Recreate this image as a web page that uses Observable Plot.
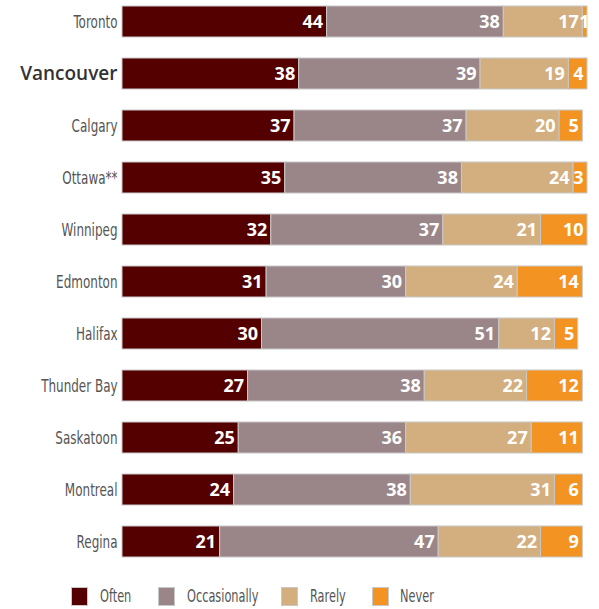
<!DOCTYPE html>
<html>
<head>
<meta charset="utf-8">
<script src="https://cdn.jsdelivr.net/npm/d3@7"></script>
<script src="https://cdn.jsdelivr.net/npm/@observablehq/plot@0.6"></script>
<style>
  body { margin: 0; background: #fff; }
  #chart { width: 599px; position: relative; }
  #legend { position: relative; height: 34px; width: 599px; font-family: "DejaVu Sans Condensed", "DejaVu Sans", sans-serif; font-size: 18px; color: #555; }
  .sw { position: absolute; top: 12px; width: 17px; height: 19px; box-sizing: border-box; border: 1px solid #c8c8c8; }
  .lb { position: absolute; top: 11px; line-height: 20px; transform: scaleX(0.7); transform-origin: left center; white-space: nowrap; }
</style>
</head>
<body>
<div id="chart"></div>
<script>
const cities = ["Toronto","Vancouver","Calgary","Ottawa**","Winnipeg","Edmonton","Halifax","Thunder Bay","Saskatoon","Montreal","Regina"];
const often = [44,38,37,35,32,31,30,27,25,24,21];
const occasionally = [38,39,37,38,37,30,51,38,36,38,47];
const rarely = [17,19,20,24,21,24,12,22,27,31,22];
const never = [1,4,5,3,10,14,5,12,11,6,9];
const seriesNames = ["Often","Occasionally","Rarely","Never"];
const seriesColors = ["#540000","#9a8688","#d3ae7e","#f39321"];

const seriesValues = [often, occasionally, rarely, never];
const data = [];
cities.forEach((c, i) => {
  seriesNames.forEach((s, j) => data.push({city: c, series: s, value: seriesValues[j][i]}));
});

const color = {domain: seriesNames, range: seriesColors};
const numFont = "'Open Sans', 'DejaVu Sans', sans-serif";
const labelOpts = {x: "value", y: "city", z: "series", order: seriesNames};

const plot = Plot.plot({
  width: 599,
  height: 575,
  marginLeft: 122,
  marginRight: 12,
  marginTop: 6,
  marginBottom: 17,
  x: {domain: [0, 100], axis: null},
  y: {domain: cities, paddingInner: 0.4, paddingOuter: 0, label: null, axis: null},
  color,
  marks: [
    Plot.barX(data, Plot.stackX({x: "value", y: "city", fill: "series", stroke: "#c8c8c8", strokeWidth: 1, order: seriesNames})),
    Plot.text(data, Plot.stackX2({...labelOpts, text: d => d.value >= 2 ? String(d.value) : "",
      fill: "#fff", textAnchor: "end", dx: -4, fontSize: 18, fontWeight: "bold", fontFamily: numFont})),
    Plot.text(data, Plot.stackX2({...labelOpts, text: d => d.value < 2 ? String(d.value) : "",
      fill: "#fff", textAnchor: "end", dx: 2, fontSize: 18, fontWeight: "bold", fontFamily: numFont})),
    Plot.axisY(cities.filter(c => c !== "Vancouver"), {tickSize: 0, tickPadding: 5, fontSize: 18, fill: "#555",
      fontFamily: "'DejaVu Sans Condensed', 'DejaVu Sans', sans-serif", label: null}),
    Plot.axisY(["Vancouver"], {tickSize: 0, tickPadding: 5, fontSize: 19, fontWeight: 600, fill: "#333",
      fontFamily: "'Open Sans', 'DejaVu Sans', sans-serif", label: null})
  ]
});
document.getElementById("chart").appendChild(plot);

// narrow the city labels to mimic a condensed face: wrap each in a group scaled about its right edge
const narrowSet = new Set(cities.filter(c => c !== "Vancouver"));
const NS = "http://www.w3.org/2000/svg";
plot.querySelectorAll("text").forEach(t => {
  if (!narrowSet.has(t.textContent)) return;
  const bb = t.getBBox();
  let right = bb.x + bb.width;
  const tl = t.transform && t.transform.baseVal;
  if (tl && tl.numberOfItems > 0) {
    const m = tl.consolidate().matrix;
    right = m.a * right + m.e;
  }
  const g = document.createElementNS(NS, "g");
  g.setAttribute("transform", `translate(${right},0) scale(0.74,1) translate(${-right},0)`);
  t.parentNode.insertBefore(g, t);
  g.appendChild(t);
});

const legend = document.createElement("div");
legend.id = "legend";
const swX = [71, 158, 281, 372];
const lbX = [100, 187, 310, 400];
seriesNames.forEach((s, i) => {
  const sw = document.createElement("div");
  sw.className = "sw";
  sw.style.left = swX[i] + "px";
  sw.style.background = seriesColors[i];
  legend.appendChild(sw);
  const lb = document.createElement("div");
  lb.className = "lb";
  lb.style.left = lbX[i] + "px";
  lb.textContent = s;
  legend.appendChild(lb);
});
document.body.appendChild(legend);
</script>
</body>
</html>
